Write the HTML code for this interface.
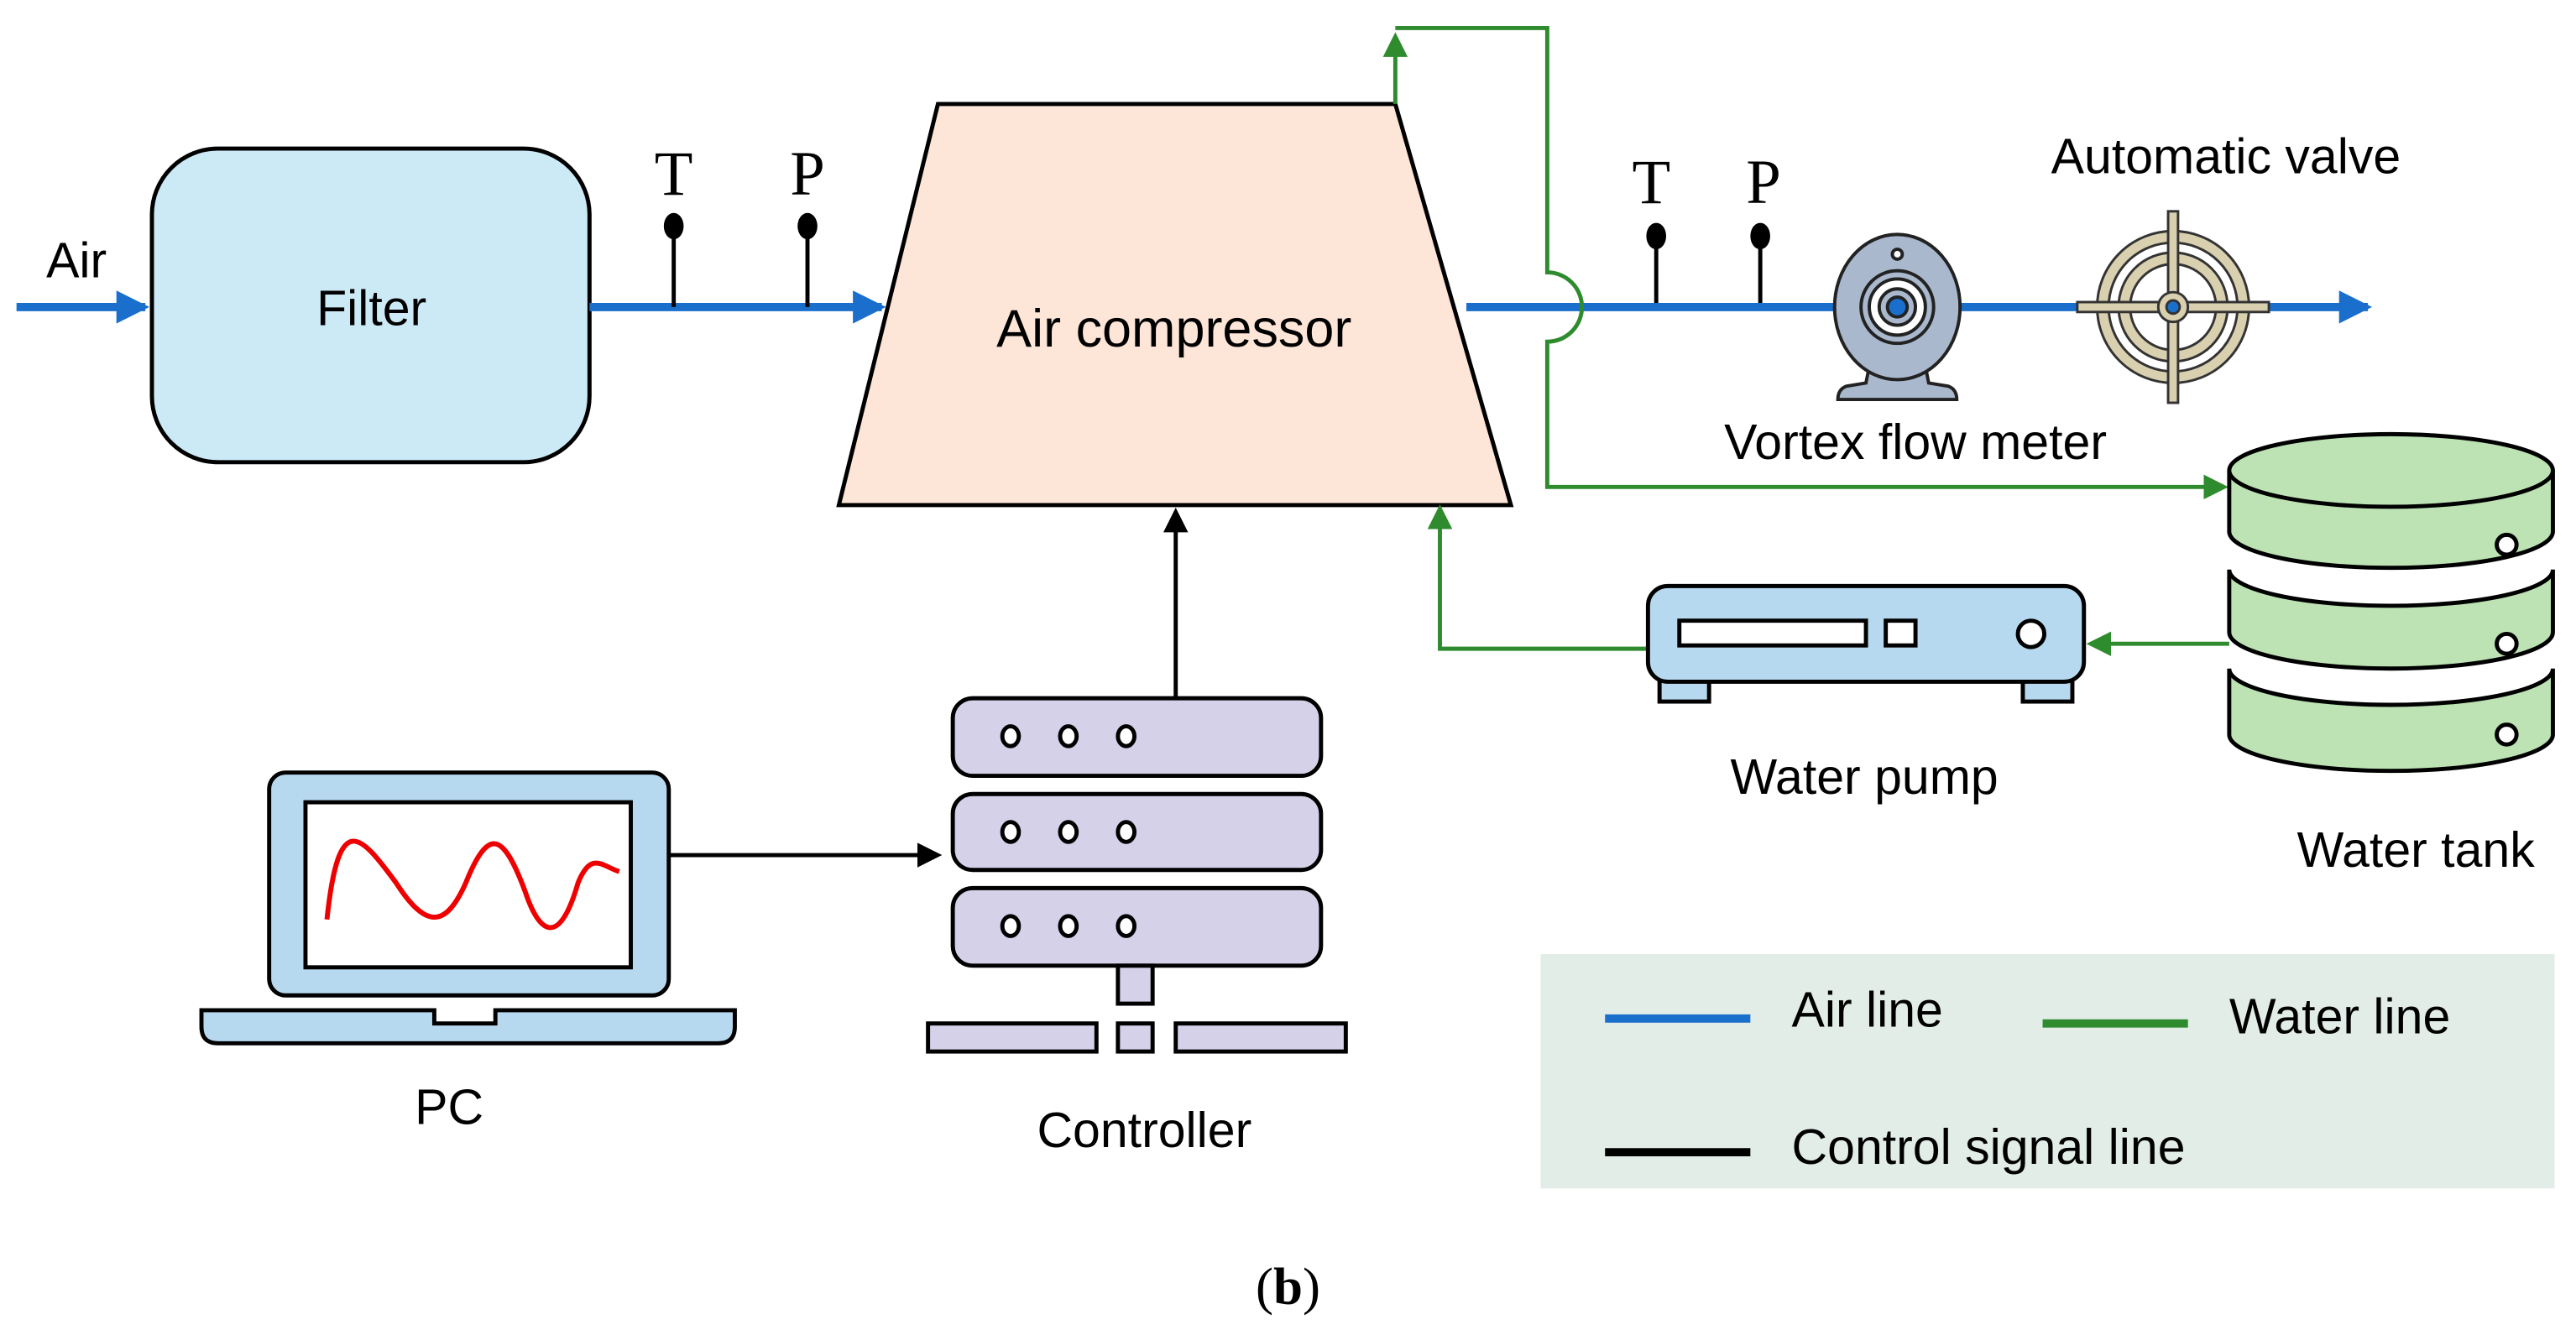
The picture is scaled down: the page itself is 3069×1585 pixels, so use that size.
<!DOCTYPE html>
<html><head><meta charset="utf-8"><style>html,body{margin:0;padding:0;background:#fff;}svg{display:block}</style></head>
<body>
<svg width="3069" height="1585" viewBox="0 0 1560 805.7" preserveAspectRatio="none" xmlns="http://www.w3.org/2000/svg" font-family="Liberation Sans, sans-serif">
<defs>
<marker id="ab" markerWidth="4" markerHeight="4" refX="3.5" refY="2" orient="auto" markerUnits="strokeWidth"><path d="M0,0 L4,2 L0,4z" fill="#1a6fcc"/></marker>
<marker id="ag" markerWidth="6" markerHeight="6" refX="5" refY="3" orient="auto" markerUnits="strokeWidth"><path d="M0,0 L6,3 L0,6z" fill="#2e8b2e"/></marker>
<marker id="ak" markerWidth="6" markerHeight="6" refX="5" refY="3" orient="auto" markerUnits="strokeWidth"><path d="M0,0 L6,3 L0,6z" fill="#000"/></marker>
</defs>
<line x1="10" y1="186" x2="88" y2="186" stroke="#1a6fcc" stroke-width="5" marker-end="url(#ab)"/>
<text x="28" y="168" font-size="30">Air</text>
<rect x="92" y="90" width="265" height="190" rx="40" fill="#cce9f6" stroke="#000" stroke-width="2.5"/>
<text x="225" y="197" font-size="30" text-anchor="middle">Filter</text>
<line x1="357" y1="186" x2="534" y2="186" stroke="#1a6fcc" stroke-width="5" marker-end="url(#ab)"/>
<g stroke="#000" stroke-width="2.5"><line x1="408" y1="137" x2="408" y2="186"/><line x1="489" y1="137" x2="489" y2="186"/>
<line x1="1003" y1="142" x2="1003" y2="186"/><line x1="1066" y1="142" x2="1066" y2="186"/></g>
<g fill="#000"><ellipse cx="408" cy="137" rx="6" ry="8"/><ellipse cx="489" cy="137" rx="6" ry="8"/><ellipse cx="1003" cy="143" rx="6" ry="8"/><ellipse cx="1066" cy="143" rx="6" ry="8"/></g>
<g font-family="Liberation Serif, serif" font-size="38" text-anchor="middle"><text x="408" y="118">T</text><text x="489" y="118">P</text><text x="1000" y="123">T</text><text x="1068" y="123">P</text></g>
<polygon points="568,63 845,63 915,306 508,306" fill="#fde5d7" stroke="#000" stroke-width="2.5"/>
<text x="711" y="210" font-size="32" text-anchor="middle">Air compressor</text>
<line x1="888" y1="186" x2="1434" y2="186" stroke="#1a6fcc" stroke-width="5" marker-end="url(#ab)"/>
<g fill="none" stroke="#2e8b2e" stroke-width="2.5">
<path d="M845,63 L845,22" marker-end="url(#ag)"/>
<path d="M845,17 L937,17 L937,165 A21,21 0 0 1 937,207 L937,295 L1347,295" marker-end="url(#ag)"/>
<path d="M1350,390 L1266,390" marker-end="url(#ag)"/>
<path d="M998,393 L872,393 L872,308" marker-end="url(#ag)"/>
</g>
<g stroke="#222" stroke-width="2">
<path d="M1132,222 L1130,232 L1118,234 Q1113,236 1113,242 L1185,242 Q1185,236 1180,234 L1168,232 L1166,222z" fill="#a9b8cc"/>
<ellipse cx="1149" cy="186" rx="38" ry="44" fill="#a9b8cc"/>
<circle cx="1149" cy="186" r="22" fill="#a9b8cc"/><circle cx="1149" cy="186" r="17" fill="#fff"/><circle cx="1149" cy="186" r="11" fill="#a9b8cc"/><circle cx="1149" cy="186" r="6" fill="#1a6fcc"/>
<circle cx="1149" cy="154" r="3" fill="#fff"/>
</g>
<text x="1160" y="278" font-size="30" text-anchor="middle">Vortex  flow meter</text>
<g stroke="#333" stroke-width="1.5" fill="#d9d0b0">
<circle cx="1316" cy="186" r="46"/><circle cx="1316" cy="186" r="39" fill="#fff"/><circle cx="1316" cy="186" r="33"/><circle cx="1316" cy="186" r="26" fill="#fff"/>
<rect x="1313" y="128" width="6" height="116"/><rect x="1258" y="183" width="116" height="6"/>
<circle cx="1316" cy="186" r="9"/><circle cx="1316" cy="186" r="4" fill="#1a6fcc"/>
</g>
<text x="1348" y="105" font-size="30" text-anchor="middle">Automatic valve</text>
<g stroke="#000" stroke-width="2.5" fill="#bde3b4">
<path d="M1350,405 L1350,445 A98,22 0 0 0 1546,445 L1546,405 A98,22 0 0 1 1350,405z"/>
<path d="M1350,345 L1350,383 A98,22 0 0 0 1546,383 L1546,345 A98,22 0 0 1 1350,345z"/>
<path d="M1350,285 L1350,322 A98,22 0 0 0 1546,322 L1546,285"/>
<ellipse cx="1448" cy="285" rx="98" ry="22"/>
<circle cx="1518" cy="330" r="6" fill="#fff"/><circle cx="1518" cy="390" r="6" fill="#fff"/><circle cx="1518" cy="445" r="6" fill="#fff"/>
</g>
<text x="1463" y="525" font-size="30" text-anchor="middle">Water tank</text>
<g stroke="#000" stroke-width="2.5" fill="#b7d9f0">
<rect x="1005" y="405" width="30" height="20"/><rect x="1225" y="405" width="30" height="20"/>
<rect x="998" y="355" width="264" height="58" rx="12"/>
<rect x="1017" y="376" width="113" height="15" fill="#fff"/><rect x="1142" y="376" width="18" height="15" fill="#fff"/>
<circle cx="1230" cy="384" r="8" fill="#fff"/>
</g>
<text x="1129" y="481" font-size="30" text-anchor="middle">Water pump</text>
<line x1="712" y1="423" x2="712" y2="310" stroke="#000" stroke-width="2.5" marker-end="url(#ak)"/>
<g stroke="#000" stroke-width="2.5" fill="#d4d1e8">
<rect x="577" y="423" width="223" height="47" rx="12"/><rect x="577" y="481" width="223" height="46" rx="12"/><rect x="577" y="538" width="223" height="47" rx="12"/>
<rect x="677" y="585" width="21" height="23"/><rect x="562" y="620" width="102" height="17"/><rect x="677" y="620" width="21" height="17"/><rect x="712" y="620" width="103" height="17"/>
<g fill="#fff"><ellipse cx="612" cy="446" rx="5" ry="6"/><ellipse cx="647" cy="446" rx="5" ry="6"/><ellipse cx="682" cy="446" rx="5" ry="6"/>
<ellipse cx="612" cy="504" rx="5" ry="6"/><ellipse cx="647" cy="504" rx="5" ry="6"/><ellipse cx="682" cy="504" rx="5" ry="6"/>
<ellipse cx="612" cy="561" rx="5" ry="6"/><ellipse cx="647" cy="561" rx="5" ry="6"/><ellipse cx="682" cy="561" rx="5" ry="6"/></g>
</g>
<text x="693" y="695" font-size="30" text-anchor="middle">Controller</text>
<g stroke="#000" stroke-width="2.5" fill="#b7d9f0">
<rect x="163" y="468" width="242" height="135" rx="10"/>
<rect x="185" y="486" width="197" height="100" fill="#fff"/>
<path d="M122,612 L263,612 L263,620 L300,620 L300,612 L445,612 L445,622 Q445,632 435,632 L132,632 Q122,632 122,622z"/>
</g>
<path d="M198,557 C205,490 218,505 240,535 C258,563 270,562 282,535 C296,500 305,505 318,540 C328,570 340,570 350,535 C358,515 365,525 375,528" fill="none" stroke="#e00" stroke-width="3"/>
<text x="272" y="681" font-size="30" text-anchor="middle">PC</text>
<line x1="405" y1="518" x2="568" y2="518" stroke="#000" stroke-width="2.5" marker-end="url(#ak)"/>
<rect x="933" y="578" width="614" height="142" fill="#e2ede8"/>
<line x1="972" y1="617" x2="1060" y2="617" stroke="#1a6fcc" stroke-width="5"/>
<text x="1085" y="622" font-size="30">Air line</text>
<line x1="1237" y1="620" x2="1325" y2="620" stroke="#2e8b2e" stroke-width="5"/>
<text x="1350" y="626" font-size="30">Water line</text>
<line x1="972" y1="698" x2="1060" y2="698" stroke="#000" stroke-width="5"/>
<text x="1085" y="705" font-size="30">Control signal line</text>
<text x="780" y="790" font-size="32" text-anchor="middle" font-family="Liberation Serif, serif">(<tspan font-weight="bold">b</tspan>)</text>
</svg>
</body></html>
